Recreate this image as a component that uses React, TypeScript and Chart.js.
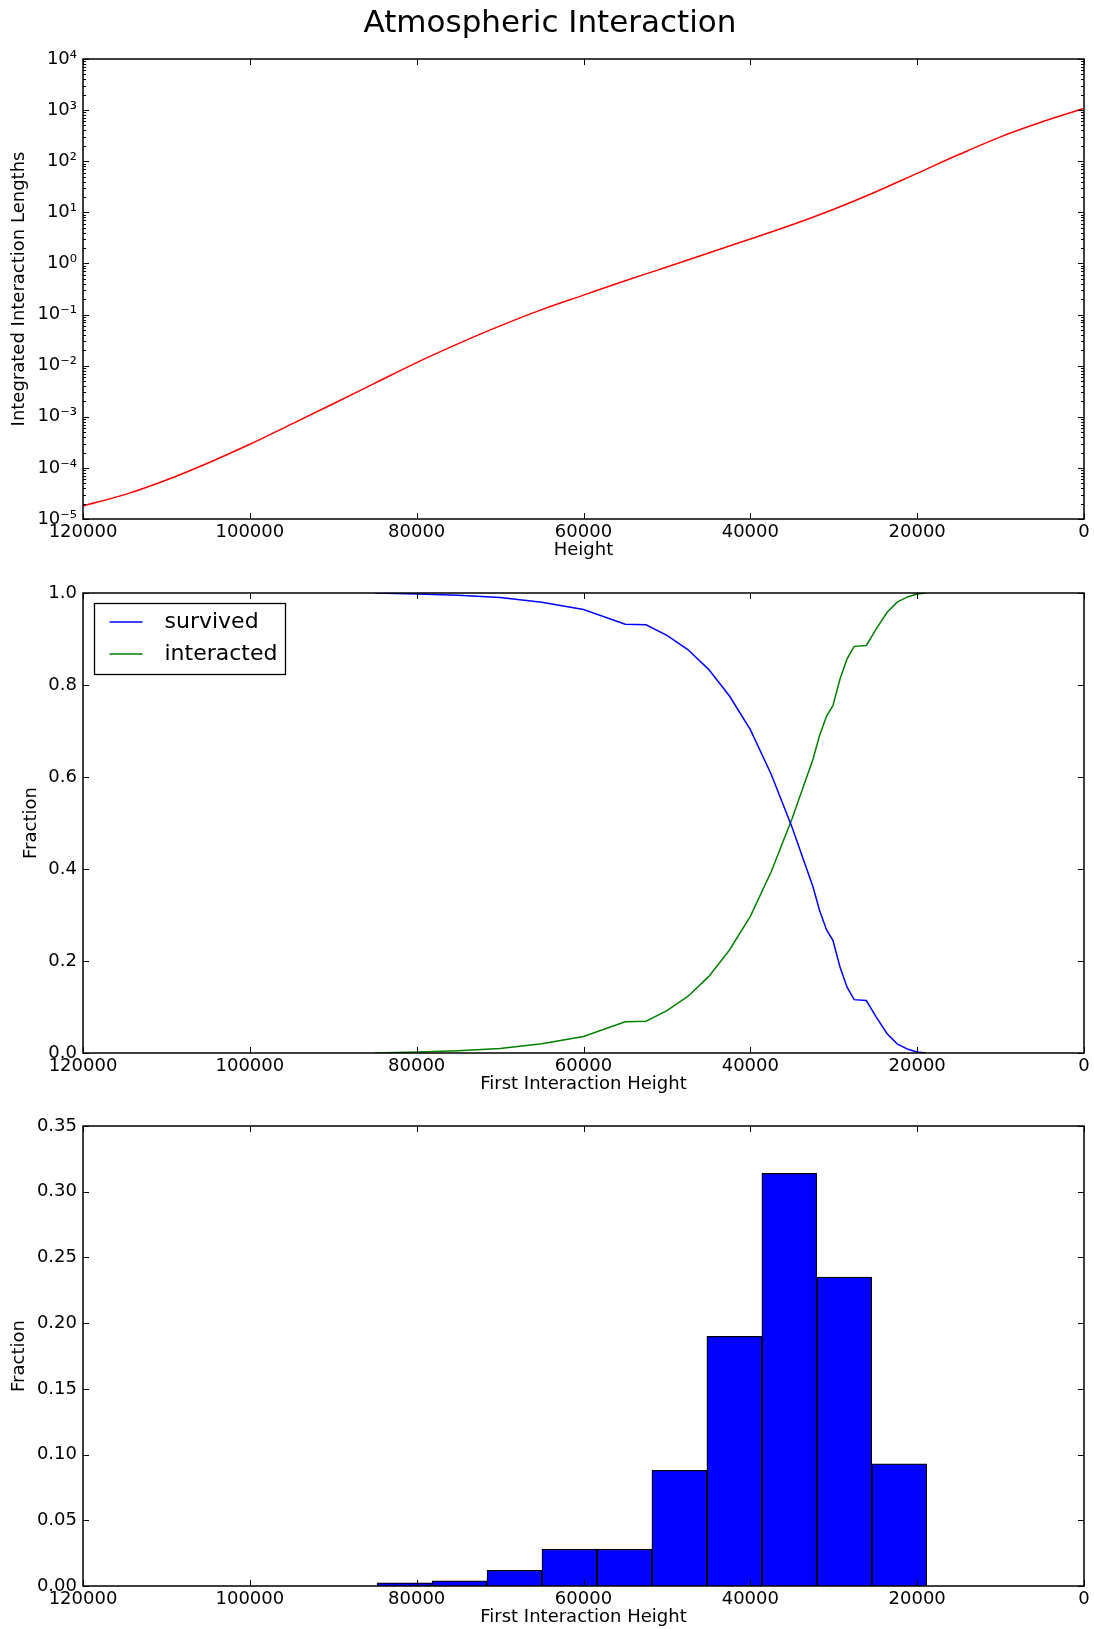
import React, { useEffect, useRef } from 'react';
import { Chart, registerables } from 'chart.js';

Chart.register(...registerables);

const FONT = "'DejaVu Sans', 'Liberation Sans', sans-serif";
Chart.defaults.font.family = FONT;
Chart.defaults.font.size = 18;
Chart.defaults.color = '#000';

// ---------------- data ----------------
// Panel 1: integrated interaction lengths vs height
const heightGrid = [120000, 115000, 110000, 105000, 100000, 95000, 90000, 85000, 80000, 75000, 70000, 65000, 60000, 55000, 50000, 45000, 40000, 35000, 30000, 25000, 20000, 15000, 10000, 5000, 0];
const interactionLengths = [1.8e-5, 3.0e-5, 5.8e-5, 1.25e-4, 2.9e-4, 7.2e-4, 1.8e-3, 4.55e-3, 1.15e-2, 2.7e-2, 6.0e-2, 0.125, 0.24, 0.46, 0.85, 1.6, 3.0, 5.7, 11.5, 25, 58, 135, 300, 590, 1080];

// Panel 2: survived / interacted fractions vs first interaction height
const firstHeights = [85000, 80000, 75000, 70000, 65000, 60000, 55000, 52500, 50000, 47500, 45000, 42500, 40000, 37500, 35000, 32500, 31700, 30850, 30100, 29250, 28400, 27550, 26100, 24900, 23600, 22400, 21100, 20000, 18900];
const survived = [1.000, 0.998, 0.995, 0.990, 0.980, 0.964, 0.932, 0.931, 0.908, 0.877, 0.834, 0.776, 0.703, 0.606, 0.491, 0.362, 0.310, 0.267, 0.245, 0.187, 0.143, 0.116, 0.114, 0.078, 0.042, 0.020, 0.008, 0.002, 0.000];
const interacted = [0.000, 0.002, 0.005, 0.010, 0.020, 0.036, 0.068, 0.069, 0.092, 0.123, 0.166, 0.224, 0.297, 0.394, 0.509, 0.638, 0.690, 0.733, 0.755, 0.813, 0.857, 0.884, 0.886, 0.922, 0.958, 0.980, 0.992, 0.998, 1.000];

// Panel 3: histogram of first interaction height
const binEdges = [84750, 78160, 71570, 64980, 58390, 51800, 45210, 38620, 32030, 25440, 18850];
const binFractions = [0.0025, 0.004, 0.012, 0.028, 0.028, 0.088, 0.190, 0.314, 0.235, 0.093];

// Ticks
const xTicks = [120000, 100000, 80000, 60000, 40000, 20000, 0];
const xTickLabels = ['120000', '100000', '80000', '60000', '40000', '20000', '0'];
const logTicks = [1e-5, 1e-4, 1e-3, 1e-2, 1e-1, 1, 10, 100, 1000, 10000];
const logTickLabels = ['10⁻⁵', '10⁻⁴', '10⁻³', '10⁻²', '10⁻¹', '10⁰', '10¹', '10²', '10³', '10⁴'];
const fracTicks = [0, 0.2, 0.4, 0.6, 0.8, 1.0];
const fracTickLabels = ['0.0', '0.2', '0.4', '0.6', '0.8', '1.0'];
const histTicks = [0, 0.05, 0.1, 0.15, 0.2, 0.25, 0.3, 0.35];
const histTickLabels = ['0.00', '0.05', '0.10', '0.15', '0.20', '0.25', '0.30', '0.35'];

// minor tick positions for the log axis (2..9 x 10^n)
const logMinor: number[] = [];
for (let i = 0; i < logTicks.length - 1; i++) {
  for (let k = 2; k <= 9; k++) logMinor.push(k * logTicks[i]);
}

// ---------------- plugins ----------------
function framePlugin(minor?: number[]) {
  return {
    id: 'frameTicks',
    afterDatasetsDraw(chart: any) {
      const { ctx, chartArea } = chart;
      const { left, right, top, bottom } = chartArea;
      const xs = chart.scales.x;
      const ys = chart.scales.y;
      ctx.save();
      ctx.strokeStyle = '#000';
      ctx.lineWidth = 1;
      ctx.beginPath();
      const maj = 6;
      for (const t of xs.ticks) {
        const px = Math.round(xs.getPixelForValue(t.value)) + 0.5;
        ctx.moveTo(px, bottom);
        ctx.lineTo(px, bottom - maj);
        ctx.moveTo(px, top);
        ctx.lineTo(px, top + maj);
      }
      for (const t of ys.ticks) {
        const py = Math.round(ys.getPixelForValue(t.value)) + 0.5;
        ctx.moveTo(left, py);
        ctx.lineTo(left + maj, py);
        ctx.moveTo(right, py);
        ctx.lineTo(right - maj, py);
      }
      if (minor) {
        for (const v of minor) {
          const py = Math.round(ys.getPixelForValue(v)) + 0.5;
          ctx.moveTo(left, py);
          ctx.lineTo(left + 3, py);
          ctx.moveTo(right, py);
          ctx.lineTo(right - 3, py);
        }
      }
      ctx.stroke();
      ctx.lineWidth = 1.5;
      ctx.strokeRect(left, top, right - left, bottom - top);
      ctx.restore();
    },
  };
}

const boxLegendPlugin = {
  id: 'boxLegend',
  afterDraw(chart: any) {
    const { ctx, chartArea } = chart;
    const x0 = Math.round(chartArea.left + 11) + 0.5;
    const y0 = Math.round(chartArea.top + 10) + 0.5;
    const w = 191;
    const h = 71;
    ctx.save();
    ctx.fillStyle = '#fff';
    ctx.fillRect(x0, y0, w, h);
    ctx.strokeStyle = '#000';
    ctx.lineWidth = 1.3;
    ctx.strokeRect(x0, y0, w, h);
    chart.data.datasets.forEach((ds: any, i: number) => {
      const cy = y0 + 18.5 + i * 32;
      ctx.beginPath();
      ctx.strokeStyle = ds.borderColor;
      ctx.lineWidth = 1.5;
      ctx.moveTo(x0 + 15, cy);
      ctx.lineTo(x0 + 48, cy);
      ctx.stroke();
      ctx.fillStyle = '#000';
      ctx.font = `22px ${FONT}`;
      ctx.textBaseline = 'middle';
      ctx.textAlign = 'left';
      ctx.fillText(ds.label, x0 + 70, cy);
    });
    ctx.restore();
  },
};

// ---------------- scale helpers ----------------
function xScale(title: string) {
  return {
    type: 'linear',
    min: 0,
    max: 120000,
    reverse: true,
    offset: false,
    grid: { display: false, drawTicks: false },
    border: { display: false },
    afterBuildTicks: (s: any) => {
      s.ticks = xTicks.map((v) => ({ value: v }));
    },
    afterFit: (s: any) => {
      s.height = 42;
    },
    ticks: {
      autoSkip: false,
      maxRotation: 0,
      minRotation: 0,
      padding: 3,
      color: '#000',
      font: { size: 18 },
      callback: (_v: any, i: number) => xTickLabels[i],
    },
    title: { display: true, text: title, color: '#000', font: { size: 18 }, padding: { top: 0, bottom: 0 } },
  };
}

function yScale(type: string, min: number, max: number, ticks: number[], labels: string[], title: string, titlePad: number, width: number) {
  return {
    type,
    min,
    max,
    grid: { display: false, drawTicks: false },
    border: { display: false },
    afterBuildTicks: (s: any) => {
      s.ticks = ticks.map((v) => ({ value: v }));
    },
    afterFit: (s: any) => {
      s.width = width;
    },
    ticks: {
      autoSkip: false,
      padding: 6,
      color: '#000',
      font: { size: 18 },
      callback: (_v: any, i: number) => labels[i],
    },
    title: { display: true, text: title, color: '#000', font: { size: 18 }, padding: { top: titlePad, bottom: 0 } },
  };
}

const basePlugins = {
  legend: { display: false },
  tooltip: { enabled: false },
};

// ---------------- configs ----------------
function config1(): any {
  return {
    type: 'line',
    data: {
      datasets: [
        {
          label: 'Integrated Interaction Lengths',
          data: heightGrid.map((h, i) => ({ x: h, y: interactionLengths[i] })),
          borderColor: '#ff0000',
          borderWidth: 1.5,
          pointRadius: 0,
          fill: false,
          cubicInterpolationMode: 'monotone',
        },
      ],
    },
    options: {
      animation: false,
      responsive: false,
      devicePixelRatio: 1,
      layout: { padding: { left: 16, right: 10, top: 0, bottom: 4 } },
      plugins: {
        ...basePlugins,
        title: {
          display: true,
          text: 'Atmospheric Interaction',
          color: '#000',
          font: { size: 31, weight: 'normal' },
          padding: { top: 5, bottom: 16.8 },
        },
      },
      scales: {
        x: xScale('Height'),
        y: yScale('logarithmic', 1e-5, 1e4, logTicks, logTickLabels, 'Integrated Interaction Lengths', -7, 67),
      },
    },
    plugins: [framePlugin(logMinor)],
  };
}

function config2(): any {
  return {
    type: 'line',
    data: {
      datasets: [
        {
          label: 'survived',
          data: firstHeights.map((h, i) => ({ x: h, y: survived[i] })),
          borderColor: '#0000ff',
          borderWidth: 1.5,
          pointRadius: 0,
          fill: false,
        },
        {
          label: 'interacted',
          data: firstHeights.map((h, i) => ({ x: h, y: interacted[i] })),
          borderColor: '#008000',
          borderWidth: 1.5,
          pointRadius: 0,
          fill: false,
        },
      ],
    },
    options: {
      animation: false,
      responsive: false,
      devicePixelRatio: 1,
      layout: { padding: { left: 0, right: 10, top: 28, bottom: 5 } },
      plugins: { ...basePlugins },
      scales: {
        x: xScale('First Interaction Height'),
        y: yScale('linear', 0, 1, fracTicks, fracTickLabels, 'Fraction', 21, 83),
      },
    },
    plugins: [framePlugin(), boxLegendPlugin],
  };
}

function config3(): any {
  const centers = binFractions.map((_f, i) => (binEdges[i] + binEdges[i + 1]) / 2);
  return {
    type: 'bar',
    data: {
      datasets: [
        {
          label: 'Fraction',
          data: centers.map((c, i) => ({ x: c, y: binFractions[i] })),
          backgroundColor: '#0000ff',
          borderColor: '#000000',
          borderWidth: 1.3,
          barPercentage: 1,
          categoryPercentage: 1,
        },
      ],
    },
    options: {
      animation: false,
      responsive: false,
      devicePixelRatio: 1,
      layout: { padding: { left: 0, right: 10, top: 26, bottom: 1 } },
      plugins: { ...basePlugins },
      scales: {
        x: xScale('First Interaction Height'),
        y: yScale('linear', 0, 0.35, histTicks, histTickLabels, 'Fraction', 9, 83),
      },
    },
    plugins: [framePlugin()],
  };
}

// ---------------- components ----------------
function ChartCanvas({ top, height, make }: { top: number; height: number; make: () => any }) {
  const ref = useRef<HTMLCanvasElement | null>(null);
  useEffect(() => {
    if (!ref.current) return;
    const chart = new Chart(ref.current, make());
    return () => chart.destroy();
  }, []);
  return (
    <canvas
      ref={ref}
      width={1094}
      height={height}
      style={{ position: 'absolute', left: 0, top, width: 1094, height, display: 'block' }}
    />
  );
}

export default function App() {
  return (
    <div style={{ position: 'absolute', left: 0, top: 0, width: 1094, height: 1629, background: '#fff' }}>
      <ChartCanvas top={0} height={565} make={config1} />
      <ChartCanvas top={565} height={535} make={config2} />
      <ChartCanvas top={1100} height={529} make={config3} />
    </div>
  );
}
